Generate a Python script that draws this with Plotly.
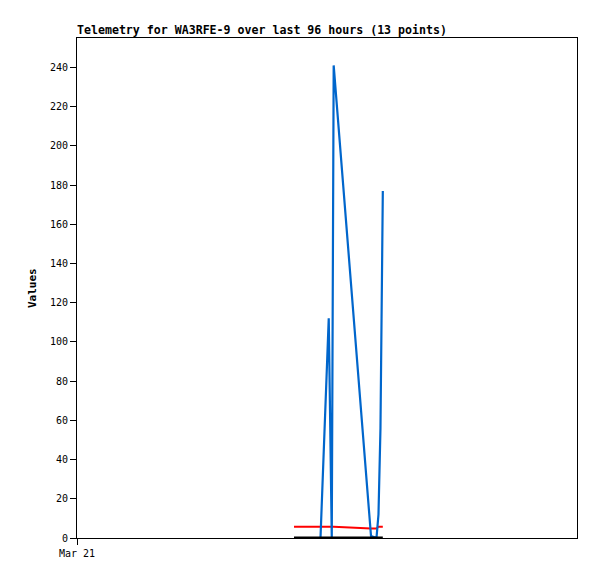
import plotly.graph_objects as go

times = [
    "2024-03-22 17:40", "2024-03-22 20:00", "2024-03-22 22:45", "2024-03-23 00:20",
    "2024-03-23 00:37", "2024-03-23 00:55", "2024-03-23 01:17", "2024-03-23 08:27",
    "2024-03-23 09:30", "2024-03-23 09:53", "2024-03-23 10:16", "2024-03-23 10:30",
    "2024-03-23 10:43",
]
blue_vals = [0, 0, 0, 112, 60, 0, 241, 1, 0, 12, 56, 137, 177]
red_vals = [5.8, 5.8, 5.8, 5.8, 5.8, 5.8, 5.8, 4.8, 4.8, 5.8, 5.8, 5.8, 5.8]
black_vals = [0.4] * 13

y_ticks = [0, 20, 40, 60, 80, 100, 120, 140, 160, 180, 200, 220, 240]
x_tick_vals = ["2024-03-21 00:00"]
x_tick_text = ["Mar 21"]

mono = "DejaVu Sans Mono"

fig = go.Figure()
fig.add_trace(go.Scatter(x=times, y=red_vals, mode="lines",
                         line=dict(color="#ff0000", width=2), showlegend=False))
fig.add_trace(go.Scatter(x=times, y=blue_vals, mode="lines",
                         line=dict(color="#0066cc", width=2.2), showlegend=False))
fig.add_trace(go.Scatter(x=times, y=black_vals, mode="lines",
                         line=dict(color="#000000", width=1.5), showlegend=False))

fig.update_layout(
    width=589, height=571,
    margin=dict(l=69, r=20, t=30, b=41),
    paper_bgcolor="white", plot_bgcolor="white",
    font=dict(family=mono, size=10, color="black"),
    xaxis=dict(
        type="date",
        range=["2024-03-21 00:00", "2024-03-25 00:00"],
        tickmode="array", tickvals=x_tick_vals, ticktext=x_tick_text,
        ticks="outside", ticklen=6, tickcolor="black", tickwidth=1,
        showline=True, linecolor="black", linewidth=1, mirror=True,
        showgrid=False, zeroline=False,
        tickfont=dict(family=mono, size=10),
    ),
    yaxis=dict(
        range=[0, 255],
        tickmode="array", tickvals=y_ticks,
        ticks="outside", ticklen=6, tickcolor="black", tickwidth=1,
        showline=True, linecolor="black", linewidth=1, mirror=True,
        showgrid=False, zeroline=False,
        tickfont=dict(family=mono, size=10),
    ),
    annotations=[
        dict(text="<b>Telemetry for WA3RFE-9 over last 96 hours (13 points)</b>",
             xref="paper", yref="paper", x=0, y=1, xanchor="left", yanchor="bottom",
             xshift=-2, yshift=-1, showarrow=False,
             font=dict(family=mono, size=11.6, color="black")),
        dict(text="<b>Values</b>", xref="paper", yref="paper",
             x=-0.09, y=0.5, xanchor="center", yanchor="middle", textangle=-90,
             showarrow=False, font=dict(family=mono, size=11, color="black")),
    ],
)

fig.write_html("out.html")
